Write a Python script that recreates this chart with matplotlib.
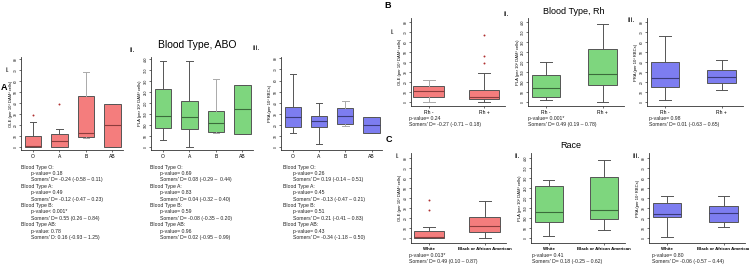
import matplotlib
matplotlib.use("Agg")
import matplotlib.pyplot as plt

plt.rcParams["font.family"] = ["Liberation Sans", "DejaVu Sans"]

W, H = 749, 267

# ---- data ----
abo = ["O", "A", "B", "AB"]
rh = ["Rh -", "Rh +"]
race = ["White", "Black or African American"]

# each box: (low whisker, q1, median, q3, high whisker)
abo_ole = [(0, 0, 1.5, 10, 23), (0, 0, 6, 12, 17), (8, 9, 13, 47, 68), (0, 0, 20, 39, 39)]
abo_ole_out = [[29], [39], [], []]
abo_pla = [(33, 86, 141, 265, 392), (2, 82, 136, 211, 392), (65, 70, 109, 165, 309), (61, 61, 173, 283, 283)]
abo_pla_out = [[], [], [], []]
abo_pra = [(12.6, 18, 27.5, 36.5, 66), (2.7, 18.6, 23.7, 28.4, 40), (19, 21.3, 28, 35.3, 42), (12.6, 12.6, 20, 27.5, 27.5)]
abo_pra_out = [[], [], [], []]

rh_ole = [(0.7, 5.7, 11.3, 16.7, 22), (0.3, 3.3, 5.7, 12, 29)]
rh_ole_out = [[], [39, 46.7, 67.7]]
rh_pla = [(12, 28, 70, 137, 203), (0, 85, 142, 265, 390)]
rh_pra = [(2.3, 15, 24, 40, 66), (12.3, 19, 25.3, 32, 42.3)]

race_ole = [(0, 0, 1.7, 7.7, 11.7), (0, 6.7, 12.3, 21, 37.7)]
race_ole_out = [[28.3, 38.3], []]
race_pla = [(12, 80, 133, 263, 290), (42, 95, 142, 308, 392)]
race_pra = [(1.7, 21, 24, 35, 42), (11.7, 16.7, 25, 32.3, 42)]

no_out2 = [[], []]

abo_ole_txt = ["Blood Type O:", "p-value= 0.18", "Somers' D= -0.24 (-0.58 \u2013 0.11)",
               "Blood Type A:", "p-value= 0.49", "Somers' D= -0.12 (-0.47 \u2013 0.23)",
               "Blood Type B:", "p-value< 0.001*", "Somers' D= 0.55 (0.26 \u2013 0.84)",
               "Blood Type AB:", "p-value: 0.78", "Somers' D: 0.16 (-0.93 \u2013 1.25)"]
abo_pla_txt = ["Blood Type O:", "p-value= 0.69", "Somers' D= 0.08 (-0.29 \u2013  0.44)",
               "Blood Type A:", "p-value= 0.83", "Somers' D= 0.04 (-0.32 \u2013 0.40)",
               "Blood Type B:", "p-value= 0.59", "Somers' D= -0.08 (-0.35 \u2013 0.20)",
               "Blood Type AB:", "p-value= 0.96", "Somers' D= 0.02 (-0.95 \u2013 0.99)"]
abo_pra_txt = ["Blood Type O:", "p-value= 0.26", "Somers' D= 0.19 (-0.14 \u2013 0.51)",
               "Blood Type A:", "p-value= 0.45", "Somers' D= -0.13 (-0.47 \u2013 0.21)",
               "Blood Type B:", "p-value= 0.51", "Somers' D= 0.21 (-0.41 \u2013 0.83)",
               "Blood Type AB:", "p-value= 0.43", "Somers' D= -0.34 (-1.18 \u2013 0.50)"]
rh_txt = [["p-value= 0.24", "Somers' D= -0.27 (-0.71 \u2013 0.18)"],
          ["p-value= 0.001*", "Somers' D= 0.49 (0.19 \u2013 0.78)"],
          ["p-value= 0.98", "Somers' D= 0.01 (-0.63 \u2013 0.65)"]]
race_txt = [["p-value= 0.013*", "Somers' D= 0.49 (0.10 \u2013 0.87)"],
            ["p-value= 0.41", "Somers' D= 0.18 (-0.25 \u2013 0.62)"],
            ["p-value= 0.80", "Somers' D= -0.06 (-0.57 \u2013 0.44)"]]

OLE_LABEL = "OLE (per 10\u00b3 DAM\u00b3 cells)"
PLA_LABEL = "PLA (per 10\u00b3 DAM\u00b3 cells)"
PRA_LABEL = "PRA (per 10\u00b3 RBCs)"

RED, GREEN, BLUE = "#f47d7d", "#7ed67e", "#7d7df0"
DARK = {RED: "#8c3c3c", GREEN: "#3b6b3b", BLUE: "#3a3a7a"}

fig = plt.figure(figsize=(W / 100, H / 100), dpi=100)


def fx(x):
    return x / W


def fy(y):
    return 1 - y / H


def panel(left, right, top, bottom, ylim, yticks, groups, boxes, fliers, color,
          xlim, width, ylabel, light=(), bold_x=False, label_off=10.5):
    ax = fig.add_axes([fx(left), fy(bottom), (right - left) / W, (bottom - top) / H])
    stats = []
    for name, b, f in zip(groups, boxes, fliers):
        stats.append(dict(label=name, whislo=b[0], q1=b[1], med=b[2], q3=b[3],
                          whishi=b[4], fliers=f))
    parts = ax.bxp(stats, widths=width, patch_artist=True, capwidths=width * 0.4,
                   boxprops=dict(facecolor=color, edgecolor="#555555", linewidth=0.7),
                   medianprops=dict(color=DARK[color], linewidth=0.8),
                   whiskerprops=dict(color="#555555", linewidth=0.7),
                   capprops=dict(color="#555555", linewidth=0.7),
                   flierprops=dict(marker="o", markersize=1.4, markerfacecolor="#b03030",
                                   markeredgecolor="none"))
    for i in light:
        for art in parts["whiskers"][2 * i:2 * i + 2] + parts["caps"][2 * i:2 * i + 2]:
            art.set_color("#aaaaaa")
    ax.set_xlim(*xlim)
    ax.set_ylim(*ylim)
    ax.set_yticks(yticks)
    for s in ("top", "right"):
        ax.spines[s].set_visible(False)
    for s in ("left", "bottom"):
        ax.spines[s].set_linewidth(0.6)
        ax.spines[s].set_color("#333333")
    ax.tick_params(axis="y", length=1.5, width=0.4, labelsize=2.3, pad=0.8)
    ax.tick_params(axis="x", length=1.5, width=0.4, labelsize=3.6, pad=1.5)
    for lab in ax.get_yticklabels():
        lab.set_rotation(90)
        lab.set_va("center")
    if bold_x:
        for lab in ax.get_xticklabels():
            lab.set_fontweight("bold")
            lab.set_fontsize(3.2)
    # y label placed by hand so it sits just left of the tick labels
    fig.text(fx(left - label_off), fy((top + bottom) / 2), ylabel, fontsize=3.0,
             rotation=90, ha="center", va="center")
    return ax


def text_block(x, indent, y, lines, step=6.4):
    for k, s in enumerate(lines):
        xx = x if s.startswith("Blood") else indent
        fig.text(fx(xx), fy(y + k * step), s, fontsize=3.7, va="center", color="#222222")


ole_ticks = range(0, 90, 10)
pla_ticks = range(0, 450, 50)

# ---- A: ABO ----
panel(21, 123, 57, 150, (-2.5, 82), ole_ticks, abo, abo_ole, abo_ole_out, RED,
      (0.55, 4.4), 0.62, OLE_LABEL, light=(2,), label_off=10)
panel(151, 253, 57, 150, (-12, 409), pla_ticks, abo, abo_pla, abo_pla_out, GREEN,
      (0.55, 4.4), 0.62, PLA_LABEL, light=(2,))
panel(281, 382, 57, 150, (-2.4, 81.2), ole_ticks, abo, abo_pra, abo_pra_out, BLUE,
      (0.55, 4.4), 0.62, PRA_LABEL, light=(2,))
text_block(21, 31, 167, abo_ole_txt)
text_block(150, 160, 167, abo_pla_txt)
text_block(283, 293, 167, abo_pra_txt)

# ---- B: Rh ----
panel(411, 505, 18, 106, (-3.7, 84.3), ole_ticks, rh, rh_ole, rh_ole_out, RED,
      (0.68, 2.38), 0.55, OLE_LABEL, light=(0,))
panel(528, 624, 18, 106, (-18.5, 421.5), pla_ticks, rh, rh_pla, no_out2, GREEN,
      (0.68, 2.38), 0.5, PLA_LABEL)
panel(647, 743, 18, 106, (-3.7, 84.3), ole_ticks, rh, rh_pra, no_out2, BLUE,
      (0.68, 2.38), 0.5, PRA_LABEL)
for x, lines in zip((409, 528, 649), rh_txt):
    text_block(x, x, 118.5, lines, step=6.2)

# ---- C: Race ----
panel(411, 506, 153, 243, (-4.7, 85.3), ole_ticks, race, race_ole, race_ole_out, RED,
      (0.68, 2.38), 0.55, OLE_LABEL, bold_x=True)
panel(531, 625, 153, 243, (-23.5, 426.5), pla_ticks, race, race_pla, no_out2, GREEN,
      (0.68, 2.38), 0.5, PLA_LABEL, bold_x=True)
panel(649, 745, 153, 243, (-4.7, 85.3), ole_ticks, race, race_pra, no_out2, BLUE,
      (0.68, 2.38), 0.5, PRA_LABEL, bold_x=True)
for x, lines in zip((409, 532, 652), race_txt):
    text_block(x, x, 256, lines, step=5.5)

# ---- titles and panel letters ----
fig.text(fx(197), fy(45), "Blood Type, ABO", fontsize=7.5, ha="center", va="center")
fig.text(fx(574), fy(12), "Blood Type, Rh", fontsize=6.5, ha="center", va="center")
fig.text(fx(571), fy(145), "Race", fontsize=6.5, ha="center", va="center")

for x, y, s in [(4, 88, "A"), (388, 6, "B"), (389, 139, "C")]:
    fig.text(fx(x), fy(y), s, fontsize=6.5, fontweight="bold", ha="center", va="center")
for x, y, s in [(7, 70, "i."), (132, 51, "ii."), (256, 48, "iii."),
                (392, 33, "i."), (506, 15, "ii."), (631, 21, "iii."),
                (397, 157, "i."), (517, 157, "ii."), (636, 157, "iii.")]:
    fig.text(fx(x), fy(y), s, fontsize=5.5, ha="center", va="center")

fig.savefig("out.png", dpi=100)
